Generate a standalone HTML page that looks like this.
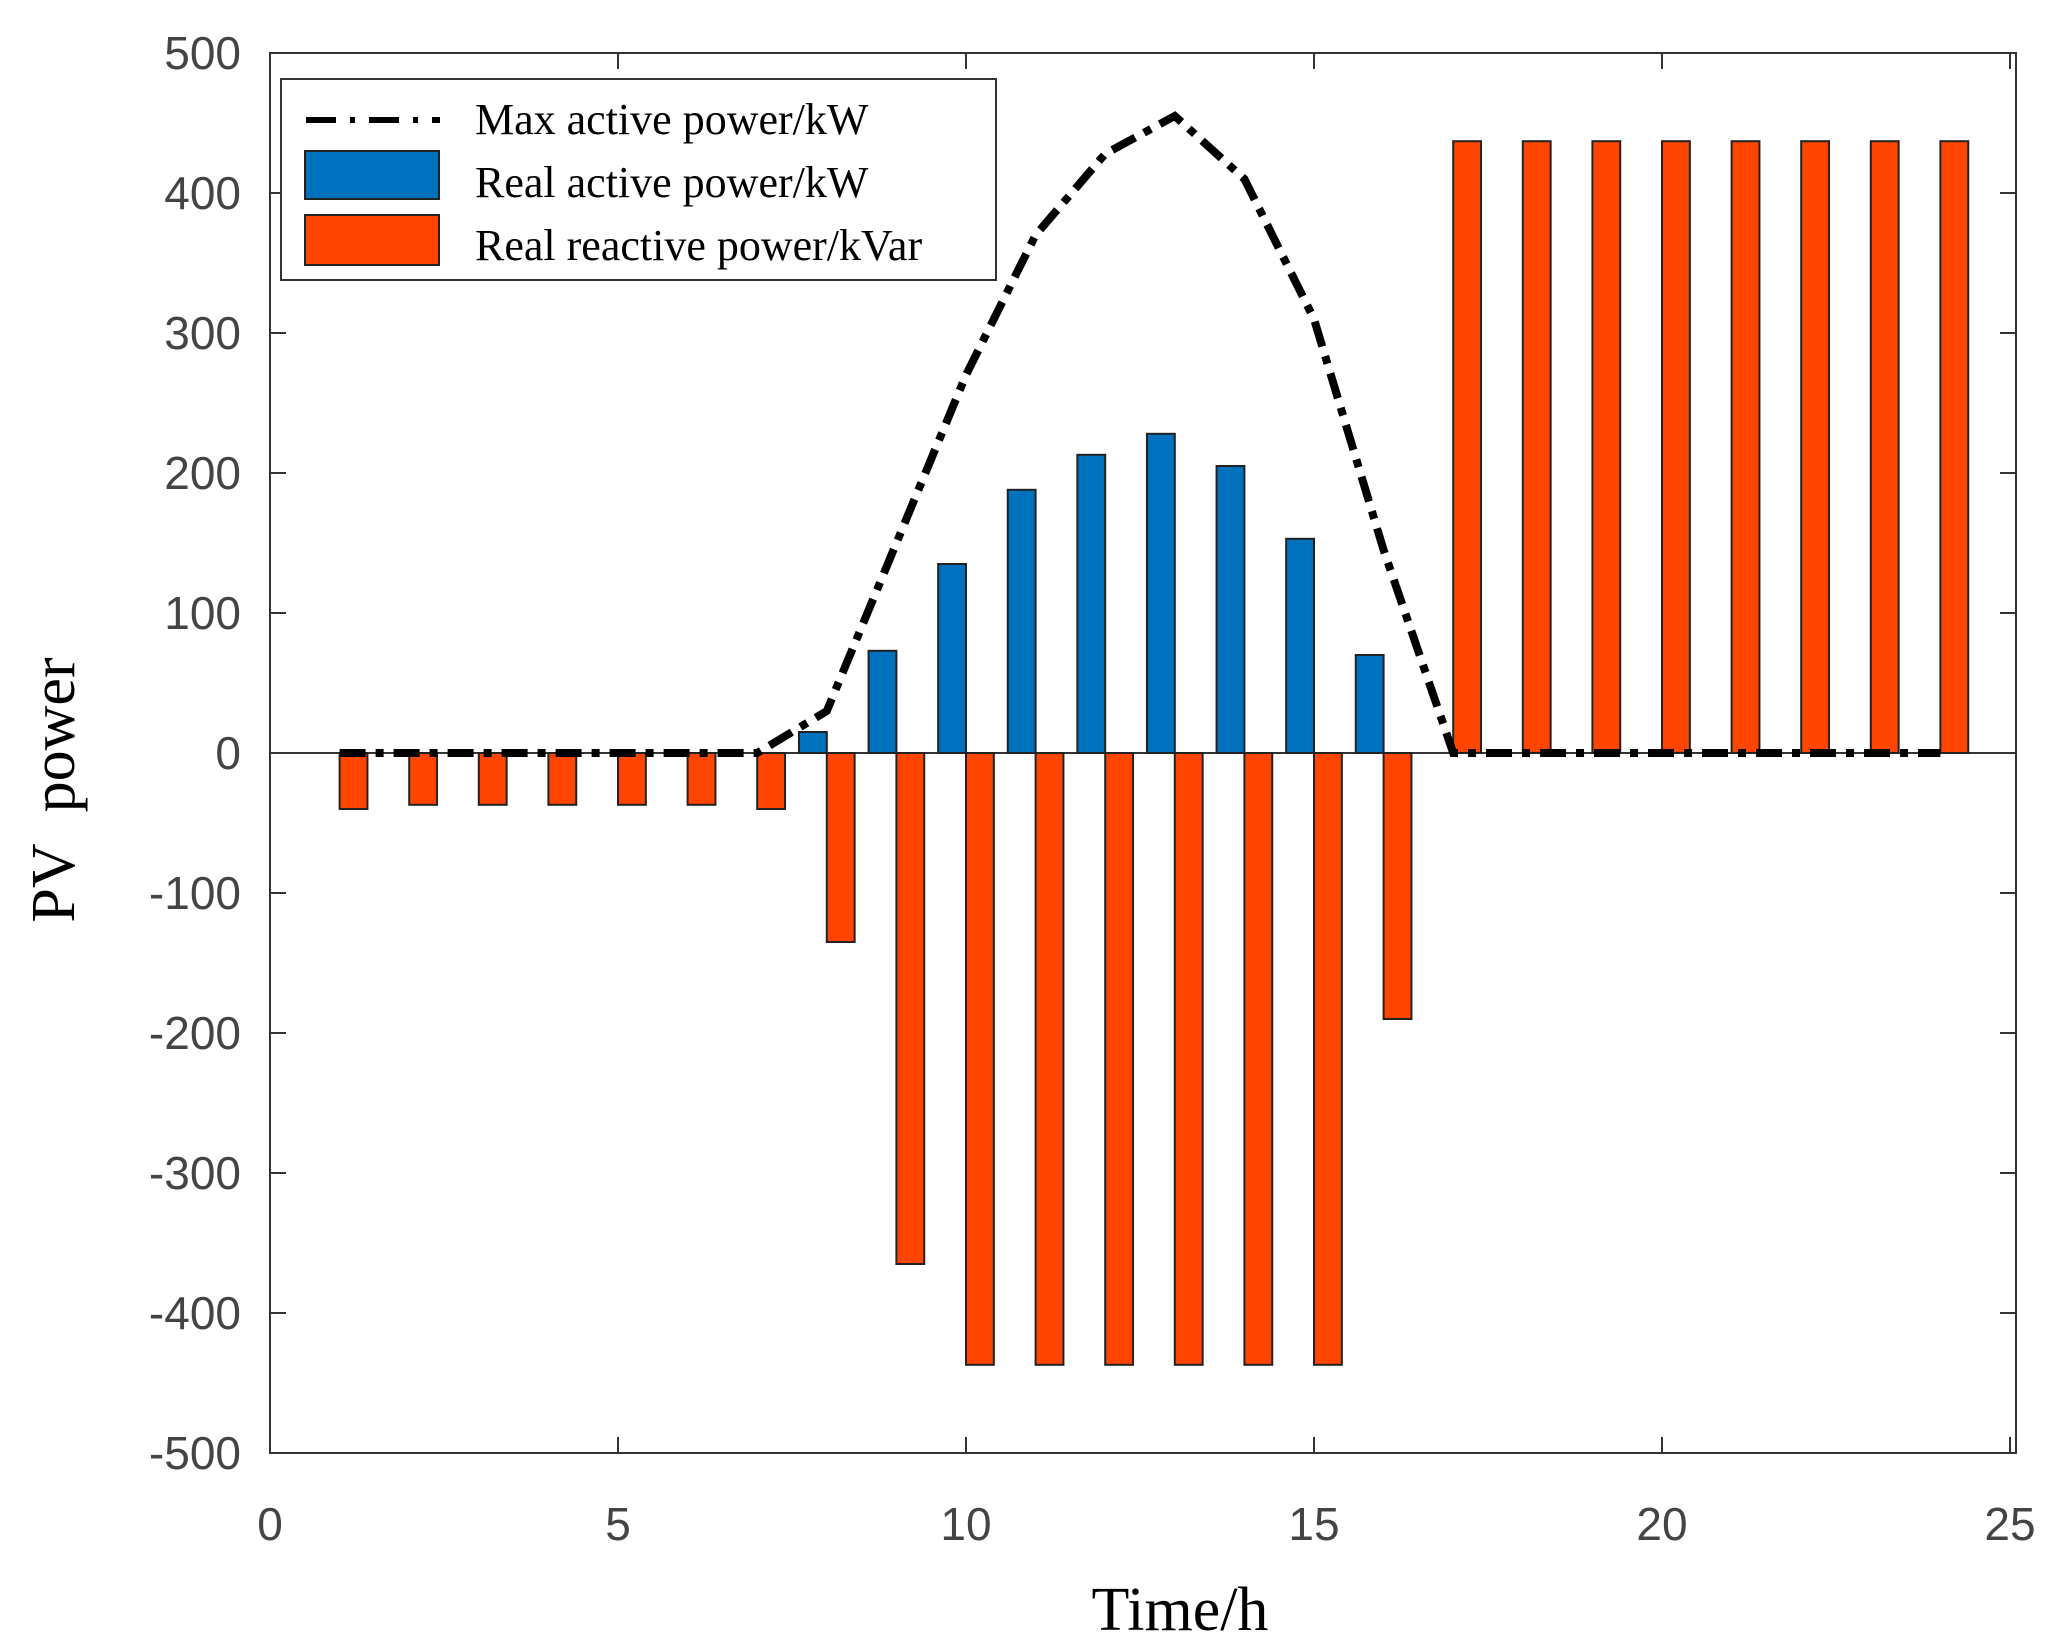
<!DOCTYPE html>
<html><head><meta charset="utf-8"><style>
html,body{margin:0;padding:0;background:#fff;}
svg{display:block;}
.tick{font-family:"Liberation Sans",sans-serif;font-size:46px;fill:#444;}
.lab{font-family:"Liberation Serif",serif;font-size:62px;fill:#000;}
.leg{font-family:"Liberation Serif",serif;font-size:44px;fill:#000;}
</style></head><body>
<svg id="chart" width="2057" height="1650" viewBox="0 0 2057 1650" xmlns="http://www.w3.org/2000/svg">
<rect x="270" y="53" width="1746" height="1400" fill="#fff" stroke="#333" stroke-width="2"/>
<g id="grid"></g><g id="bars"></g><g id="line"></g><g id="ticks"></g>
<text class="lab" x="1180" y="1630" text-anchor="middle">Time/h</text>
<text class="lab" transform="translate(74,790) rotate(-90)" text-anchor="middle">PV&#160;&#160;power</text>
<g>
<rect x="281" y="79" width="715" height="201" fill="#fff" stroke="#333" stroke-width="2"/>
<line x1="306" y1="120" x2="440" y2="120" stroke="#000" stroke-width="6" stroke-dasharray="30,14,5,14"/>
<text class="leg" x="475" y="134">Max active power/kW</text>
<rect x="305" y="151" width="134" height="48" fill="#0072BD" stroke="#222" stroke-width="2"/>
<text class="leg" x="475" y="197">Real active power/kW</text>
<rect x="305" y="215" width="134" height="50" fill="#FF4500" stroke="#222" stroke-width="2"/>
<text class="leg" x="475" y="260">Real reactive power/kVar</text>
</g>
</svg>
<script>
const hours=[1,2,3,4,5,6,7,8,9,10,11,12,13,14,15,16,17,18,19,20,21,22,23,24];
const activePower=[0,0,0,0,0,0,0,15,73,135,188,213,228,205,153,70,0,0,0,0,0,0,0,0];
const reactivePower=[-40,-37,-37,-37,-37,-37,-40,-135,-365,-437,-437,-437,-437,-437,-437,-190,437,437,437,437,437,437,437,437];
const maxActive=[0,0,0,0,0,0,0,30,150,270,370,428,455,410,310,145,0,0,0,0,0,0,0,0];
const xTicks=[0,5,10,15,20,25];
const yTicks=[-500,-400,-300,-200,-100,0,100,200,300,400,500];
const NS="http://www.w3.org/2000/svg";
const X0=270,X1=2010,Y0=1453,Y1=53;
const xs=v=>X0+(v/25)*(X1-X0);
const ys=v=>Y0-(v+500)/1000*(Y0-Y1);
function mk(t,a,p){const e=document.createElementNS(NS,t);for(const k in a)e.setAttribute(k,a[k]);p.appendChild(e);return e;}
const bars=document.getElementById('bars');
const bw=0.4*(X1-X0)/25;
hours.forEach((h,i)=>{
  if(activePower[i]>0){
    const r=mk('rect',{x:xs(h-0.2)-bw/2,y:ys(activePower[i]),width:bw,height:ys(0)-ys(activePower[i]),fill:'#0072BD',stroke:'#222','stroke-width':2},bars);
    
    
  }
  const v=reactivePower[i];
  const r2=mk('rect',{x:xs(h+0.2)-bw/2,y:Math.min(ys(v),ys(0)),width:bw,height:Math.abs(ys(v)-ys(0)),fill:'#FF4500',stroke:'#222','stroke-width':2},bars);
  
  
});
const z=mk('line',{x1:X0,x2:2016,y1:ys(0),y2:ys(0),stroke:'#333','stroke-width':2},document.getElementById('grid'));


const pts=hours.map((h,i)=>xs(h)+','+ys(maxActive[i])).join(' ');
const pl=mk('polyline',{points:pts,fill:'none',stroke:'#000','stroke-width':8,'stroke-dasharray':'26,10,8,10'},document.getElementById('line'));


const tk=document.getElementById('ticks');
yTicks.forEach(v=>{
  const y=ys(v);
  mk('line',{x1:X0,x2:X0+16,y1:y,y2:y,stroke:'#333','stroke-width':2},tk);
  mk('line',{x1:2016,x2:2000,y1:y,y2:y,stroke:'#333','stroke-width':2},tk);
  const t=mk('text',{x:241,y:y+16,'text-anchor':'end',class:'tick'},tk);
  t.textContent=v;
  
  
});
xTicks.forEach(v=>{
  const x=xs(v);
  mk('line',{x1:x,x2:x,y1:Y0,y2:Y0-16,stroke:'#333','stroke-width':2},tk);
  mk('line',{x1:x,x2:x,y1:Y1,y2:Y1+16,stroke:'#333','stroke-width':2},tk);
  const t=mk('text',{x:x,y:1540,'text-anchor':'middle',class:'tick'},tk);
  t.textContent=v;
  
  
});
</script>
</body></html>
